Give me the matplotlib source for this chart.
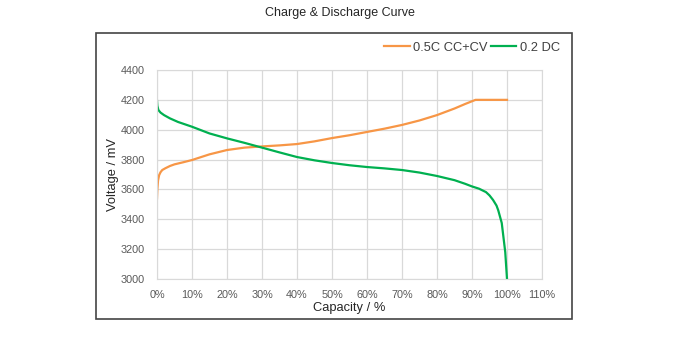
import numpy as np
import matplotlib
matplotlib.use('Agg')
from matplotlib import pyplot as plt
from matplotlib.patches import Rectangle

# charge curve 0.5C CC+CV  (capacity %, voltage mV)
charge_cap = [0, 0.1, 0.3, 0.6, 1, 1.5, 2.4, 3.7, 5, 7.5, 10, 15, 20, 25, 30,
              35, 40, 45, 50, 55, 60, 65, 70, 75, 80, 85, 88, 91, 100]
charge_mv = [3540, 3600, 3660, 3695, 3715, 3730, 3742, 3757, 3768, 3782, 3797,
             3835, 3864, 3880, 3888, 3895, 3904, 3922, 3944, 3963, 3985, 4007,
             4032, 4062, 4098, 4142, 4172, 4200, 4200]

# discharge curve 0.2 DC
dis_cap = [0, 0.1, 0.4, 1, 2, 3.7, 6, 10, 15, 20, 25, 30, 35, 40, 45, 50, 55,
           60, 65, 70, 75, 80, 85, 88, 90, 92, 94, 95, 96, 97, 97.5, 98.5,
           99.5, 100]
dis_mv = [4194, 4160, 4132, 4115, 4098, 4076, 4052, 4020, 3975, 3942, 3912,
          3880, 3848, 3817, 3795, 3777, 3762, 3750, 3741, 3730, 3713, 3690,
          3662, 3638, 3620, 3605, 3582, 3560, 3530, 3492, 3460, 3375, 3180, 3000]

xticks = [0, 10, 20, 30, 40, 50, 60, 70, 80, 90, 100, 110]
yticks = [3000, 3200, 3400, 3600, 3800, 4000, 4200, 4400]

plt.rcParams['font.family'] = ['Liberation Sans', 'DejaVu Sans']

fig = plt.figure(figsize=(6.8, 3.62), dpi=100)
fig.patch.set_facecolor('white')

# chart area border
fig.add_artist(Rectangle((96 / 680, 1 - 319 / 362), 476 / 680, 286 / 362,
                         transform=fig.transFigure, fill=False,
                         edgecolor='#444444', lw=1.2))

ax = fig.add_axes([157 / 680, 1 - 279 / 362, 385 / 680, 209 / 362])
ax.plot(charge_cap, charge_mv, color='#F79646', lw=1.6, label='0.5C CC+CV')
ax.plot(dis_cap, dis_mv, color='#00B050', lw=1.6, label='0.2 DC')

ax.set_xlim(0, 110)
ax.set_ylim(3000, 4400)
ax.set_xticks(xticks)
ax.set_xticklabels([f'{t}%' for t in xticks])
ax.set_yticks(yticks)
ax.grid(True, color='#d9d9d9', lw=0.9)
ax.set_axisbelow(True)
for s in ax.spines.values():
    s.set_color('#d9d9d9')
ax.tick_params(axis='x', length=0, labelsize=7.8, labelcolor='#595959', pad=8)
ax.tick_params(axis='y', length=0, labelsize=7.8, labelcolor='#595959', pad=9)
ax.set_xlabel('Capacity / %', fontsize=9.3, color='#262626', labelpad=1)
ax.set_ylabel('Voltage / mV', fontsize=9.3, color='#262626', labelpad=1)

fig.text(0.5, 1 - 13 / 362, 'Charge & Discharge Curve', ha='center',
         va='center', fontsize=9, color='#262626')

fig.legend(loc='center right', bbox_to_anchor=(572 / 680, 1 - 48 / 362),
           ncol=2, frameon=False, fontsize=9.3, handlelength=2.0,
           columnspacing=0.2, handletextpad=0.3, labelcolor='#404040')

fig.savefig('out.png', dpi=100, facecolor='white')
